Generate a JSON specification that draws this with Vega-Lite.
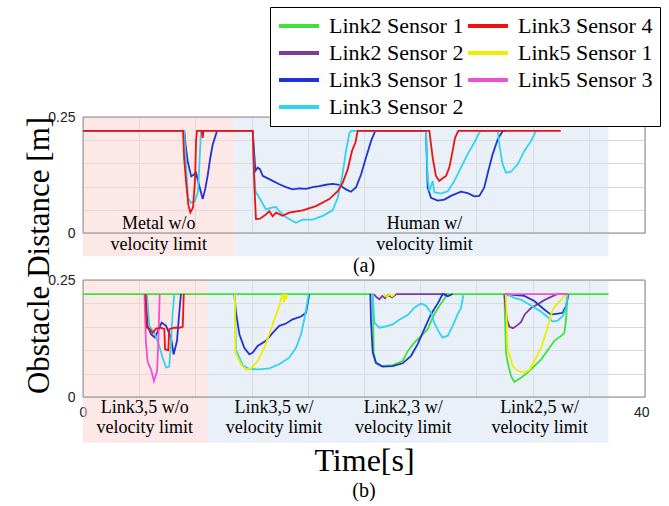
{
"$schema":"https://vega.github.io/schema/vega-lite/v6.json",
"padding":{"left":22,"top":6,"right":8,"bottom":6},
"background":"white",
"config":{"view":{"stroke":null},"font":"Liberation Serif",
 "axis":{"grid":true,"gridColor":"#d9d9d9","ticks":false,"domain":false,"labelFont":"Liberation Sans","labelFontSize":14,"labelColor":"#222","labelPadding":8,"labelOverlap":false}},
"datasets":{
"regions":[
{"p":"a","start":0,"end":10.8,"k":"pink"},{"p":"a","start":10.8,"end":37.4,"k":"blue"},
{"p":"b","start":0,"end":8.9,"k":"pink"},{"p":"b","start":8.9,"end":37.4,"k":"blue"}],
"labels":[
{"p":"a","t":5.4,"text":"Metal w/o\nvelocity limit"},{"p":"a","t":24.3,"text":"Human w/\nvelocity limit"},
{"p":"b","t":4.4,"text":"Link3,5 w/o\nvelocity limit"},{"p":"b","t":13.6,"text":"Link3,5 w/\nvelocity limit"},
{"p":"b","t":22.8,"text":"Link2,3 w/\nvelocity limit"},{"p":"b","t":32.5,"text":"Link2,5 w/\nvelocity limit"}],
"caps":[{"p":"a","t":20,"text":"(a)"},{"p":"b","t":20,"text":"(b)"}],
"frame":[{"x0":0,"x1":40,"y0":0,"y1":0.25}],
"d":[
{"p":"a","s":"Link3 Sensor 1","g":1,"t":0,"v":0.22},{"p":"a","s":"Link3 Sensor 1","g":1,"t":7.21,"v":0.22},{"p":"a","s":"Link3 Sensor 1","g":1,"t":7.3,"v":0.19},{"p":"a","s":"Link3 Sensor 1","g":1,"t":7.45,"v":0.155},{"p":"a","s":"Link3 Sensor 1","g":1,"t":7.7,"v":0.122},{"p":"a","s":"Link3 Sensor 1","g":1,"t":7.85,"v":0.125},{"p":"a","s":"Link3 Sensor 1","g":1,"t":8.04,"v":0.13},{"p":"a","s":"Link3 Sensor 1","g":1,"t":8.25,"v":0.105},{"p":"a","s":"Link3 Sensor 1","g":1,"t":8.52,"v":0.073},{"p":"a","s":"Link3 Sensor 1","g":1,"t":8.7,"v":0.095},{"p":"a","s":"Link3 Sensor 1","g":1,"t":8.88,"v":0.125},{"p":"a","s":"Link3 Sensor 1","g":1,"t":9.05,"v":0.16},{"p":"a","s":"Link3 Sensor 1","g":1,"t":9.23,"v":0.19},{"p":"a","s":"Link3 Sensor 1","g":1,"t":9.54,"v":0.22},{"p":"a","s":"Link3 Sensor 1","g":1,"t":12.08,"v":0.22},{"p":"a","s":"Link3 Sensor 1","g":1,"t":12.27,"v":0.134},{"p":"a","s":"Link3 Sensor 1","g":1,"t":12.43,"v":0.141},{"p":"a","s":"Link3 Sensor 1","g":1,"t":12.6,"v":0.137},{"p":"a","s":"Link3 Sensor 1","g":1,"t":12.79,"v":0.123},{"p":"a","s":"Link3 Sensor 1","g":1,"t":13.26,"v":0.116},{"p":"a","s":"Link3 Sensor 1","g":1,"t":13.97,"v":0.105},{"p":"a","s":"Link3 Sensor 1","g":1,"t":14.45,"v":0.099},{"p":"a","s":"Link3 Sensor 1","g":1,"t":14.92,"v":0.094},{"p":"a","s":"Link3 Sensor 1","g":1,"t":15.4,"v":0.096},{"p":"a","s":"Link3 Sensor 1","g":1,"t":15.87,"v":0.095},{"p":"a","s":"Link3 Sensor 1","g":1,"t":16.35,"v":0.099},{"p":"a","s":"Link3 Sensor 1","g":1,"t":16.82,"v":0.101},{"p":"a","s":"Link3 Sensor 1","g":1,"t":17.3,"v":0.104},{"p":"a","s":"Link3 Sensor 1","g":1,"t":17.77,"v":0.106},{"p":"a","s":"Link3 Sensor 1","g":1,"t":18.24,"v":0.104},{"p":"a","s":"Link3 Sensor 1","g":1,"t":18.72,"v":0.094},{"p":"a","s":"Link3 Sensor 1","g":1,"t":19.07,"v":0.089},{"p":"a","s":"Link3 Sensor 1","g":1,"t":19.43,"v":0.098},{"p":"a","s":"Link3 Sensor 1","g":1,"t":19.79,"v":0.126},{"p":"a","s":"Link3 Sensor 1","g":1,"t":20.14,"v":0.162},{"p":"a","s":"Link3 Sensor 1","g":1,"t":20.5,"v":0.198},{"p":"a","s":"Link3 Sensor 1","g":1,"t":20.8,"v":0.22},{"p":"a","s":"Link3 Sensor 1","g":1,"t":24.41,"v":0.22},{"p":"a","s":"Link3 Sensor 1","g":1,"t":24.53,"v":0.098},{"p":"a","s":"Link3 Sensor 1","g":1,"t":24.77,"v":0.076},{"p":"a","s":"Link3 Sensor 1","g":1,"t":25.25,"v":0.07},{"p":"a","s":"Link3 Sensor 1","g":1,"t":25.72,"v":0.072},{"p":"a","s":"Link3 Sensor 1","g":1,"t":26.19,"v":0.08},{"p":"a","s":"Link3 Sensor 1","g":1,"t":26.9,"v":0.089},{"p":"a","s":"Link3 Sensor 1","g":1,"t":27.38,"v":0.086},{"p":"a","s":"Link3 Sensor 1","g":1,"t":27.85,"v":0.079},{"p":"a","s":"Link3 Sensor 1","g":1,"t":28.21,"v":0.08},{"p":"a","s":"Link3 Sensor 1","g":1,"t":28.56,"v":0.098},{"p":"a","s":"Link3 Sensor 1","g":1,"t":28.85,"v":0.134},{"p":"a","s":"Link3 Sensor 1","g":1,"t":29.16,"v":0.17},{"p":"a","s":"Link3 Sensor 1","g":1,"t":29.52,"v":0.202},{"p":"a","s":"Link3 Sensor 1","g":1,"t":29.87,"v":0.22},{"p":"a","s":"Link3 Sensor 1","g":1,"t":30.1,"v":0.22},
{"p":"a","s":"Link3 Sensor 2","g":1,"t":0,"v":0.22},{"p":"a","s":"Link3 Sensor 2","g":1,"t":7.2,"v":0.22},{"p":"a","s":"Link3 Sensor 2","g":1,"t":7.35,"v":0.14},{"p":"a","s":"Link3 Sensor 2","g":1,"t":7.47,"v":0.076},{"p":"a","s":"Link3 Sensor 2","g":1,"t":7.69,"v":0.065},{"p":"a","s":"Link3 Sensor 2","g":1,"t":7.97,"v":0.069},{"p":"a","s":"Link3 Sensor 2","g":1,"t":8.19,"v":0.09},{"p":"a","s":"Link3 Sensor 2","g":1,"t":8.33,"v":0.177},{"p":"a","s":"Link3 Sensor 2","g":1,"t":8.4,"v":0.22},{"p":"a","s":"Link3 Sensor 2","g":1,"t":12.08,"v":0.22},{"p":"a","s":"Link3 Sensor 2","g":1,"t":12.15,"v":0.15},{"p":"a","s":"Link3 Sensor 2","g":1,"t":12.27,"v":0.09},{"p":"a","s":"Link3 Sensor 2","g":1,"t":12.55,"v":0.076},{"p":"a","s":"Link3 Sensor 2","g":1,"t":13.02,"v":0.051},{"p":"a","s":"Link3 Sensor 2","g":1,"t":13.5,"v":0.055},{"p":"a","s":"Link3 Sensor 2","g":1,"t":13.74,"v":0.056},{"p":"a","s":"Link3 Sensor 2","g":1,"t":13.97,"v":0.047},{"p":"a","s":"Link3 Sensor 2","g":1,"t":14.45,"v":0.034},{"p":"a","s":"Link3 Sensor 2","g":1,"t":15.16,"v":0.022},{"p":"a","s":"Link3 Sensor 2","g":1,"t":15.63,"v":0.029},{"p":"a","s":"Link3 Sensor 2","g":1,"t":16.35,"v":0.029},{"p":"a","s":"Link3 Sensor 2","g":1,"t":17.06,"v":0.037},{"p":"a","s":"Link3 Sensor 2","g":1,"t":17.77,"v":0.049},{"p":"a","s":"Link3 Sensor 2","g":1,"t":18.13,"v":0.076},{"p":"a","s":"Link3 Sensor 2","g":1,"t":18.43,"v":0.119},{"p":"a","s":"Link3 Sensor 2","g":1,"t":18.72,"v":0.177},{"p":"a","s":"Link3 Sensor 2","g":1,"t":18.96,"v":0.215},{"p":"a","s":"Link3 Sensor 2","g":1,"t":19.07,"v":0.22},{"p":"a","s":"Link3 Sensor 2","g":1,"t":24.41,"v":0.22},{"p":"a","s":"Link3 Sensor 2","g":1,"t":24.53,"v":0.119},{"p":"a","s":"Link3 Sensor 2","g":1,"t":24.65,"v":0.09},{"p":"a","s":"Link3 Sensor 2","g":1,"t":24.89,"v":0.112},{"p":"a","s":"Link3 Sensor 2","g":1,"t":25.0,"v":0.088},{"p":"a","s":"Link3 Sensor 2","g":1,"t":25.48,"v":0.085},{"p":"a","s":"Link3 Sensor 2","g":1,"t":25.96,"v":0.09},{"p":"a","s":"Link3 Sensor 2","g":1,"t":26.43,"v":0.112},{"p":"a","s":"Link3 Sensor 2","g":1,"t":26.9,"v":0.141},{"p":"a","s":"Link3 Sensor 2","g":1,"t":27.38,"v":0.17},{"p":"a","s":"Link3 Sensor 2","g":1,"t":27.85,"v":0.195},{"p":"a","s":"Link3 Sensor 2","g":1,"t":28.28,"v":0.22},{"p":"a","s":"Link3 Sensor 2","g":1,"t":29.52,"v":0.22},{"p":"a","s":"Link3 Sensor 2","g":1,"t":29.63,"v":0.191},{"p":"a","s":"Link3 Sensor 2","g":1,"t":29.87,"v":0.148},{"p":"a","s":"Link3 Sensor 2","g":1,"t":30.11,"v":0.13},{"p":"a","s":"Link3 Sensor 2","g":1,"t":30.46,"v":0.132},{"p":"a","s":"Link3 Sensor 2","g":1,"t":30.94,"v":0.148},{"p":"a","s":"Link3 Sensor 2","g":1,"t":31.41,"v":0.177},{"p":"a","s":"Link3 Sensor 2","g":1,"t":31.89,"v":0.198},{"p":"a","s":"Link3 Sensor 2","g":1,"t":32.24,"v":0.22},
{"p":"a","s":"Link3 Sensor 4","g":1,"t":0,"v":0.22},{"p":"a","s":"Link3 Sensor 4","g":1,"t":7.12,"v":0.22},{"p":"a","s":"Link3 Sensor 4","g":1,"t":7.2,"v":0.16},{"p":"a","s":"Link3 Sensor 4","g":1,"t":7.33,"v":0.112},{"p":"a","s":"Link3 Sensor 4","g":1,"t":7.5,"v":0.06},{"p":"a","s":"Link3 Sensor 4","g":1,"t":7.64,"v":0.044},{"p":"a","s":"Link3 Sensor 4","g":1,"t":7.83,"v":0.055},{"p":"a","s":"Link3 Sensor 4","g":1,"t":7.97,"v":0.112},{"p":"a","s":"Link3 Sensor 4","g":1,"t":8.05,"v":0.2},{"p":"a","s":"Link3 Sensor 4","g":1,"t":8.11,"v":0.22},{"p":"a","s":"Link3 Sensor 4","g":1,"t":8.45,"v":0.22},{"p":"a","s":"Link3 Sensor 4","g":1,"t":8.52,"v":0.205},{"p":"a","s":"Link3 Sensor 4","g":1,"t":8.58,"v":0.22},{"p":"a","s":"Link3 Sensor 4","g":1,"t":12.08,"v":0.22},{"p":"a","s":"Link3 Sensor 4","g":1,"t":12.2,"v":0.1},{"p":"a","s":"Link3 Sensor 4","g":1,"t":12.31,"v":0.03},{"p":"a","s":"Link3 Sensor 4","g":1,"t":12.6,"v":0.031},{"p":"a","s":"Link3 Sensor 4","g":1,"t":13.02,"v":0.04},{"p":"a","s":"Link3 Sensor 4","g":1,"t":13.26,"v":0.047},{"p":"a","s":"Link3 Sensor 4","g":1,"t":13.5,"v":0.036},{"p":"a","s":"Link3 Sensor 4","g":1,"t":13.74,"v":0.044},{"p":"a","s":"Link3 Sensor 4","g":1,"t":14.21,"v":0.037},{"p":"a","s":"Link3 Sensor 4","g":1,"t":14.68,"v":0.044},{"p":"a","s":"Link3 Sensor 4","g":1,"t":15.63,"v":0.049},{"p":"a","s":"Link3 Sensor 4","g":1,"t":16.58,"v":0.058},{"p":"a","s":"Link3 Sensor 4","g":1,"t":17.53,"v":0.073},{"p":"a","s":"Link3 Sensor 4","g":1,"t":18.13,"v":0.09},{"p":"a","s":"Link3 Sensor 4","g":1,"t":18.48,"v":0.108},{"p":"a","s":"Link3 Sensor 4","g":1,"t":18.84,"v":0.137},{"p":"a","s":"Link3 Sensor 4","g":1,"t":19.15,"v":0.177},{"p":"a","s":"Link3 Sensor 4","g":1,"t":19.39,"v":0.195},{"p":"a","s":"Link3 Sensor 4","g":1,"t":19.55,"v":0.22},{"p":"a","s":"Link3 Sensor 4","g":1,"t":24.65,"v":0.22},{"p":"a","s":"Link3 Sensor 4","g":1,"t":24.89,"v":0.162},{"p":"a","s":"Link3 Sensor 4","g":1,"t":25.12,"v":0.123},{"p":"a","s":"Link3 Sensor 4","g":1,"t":25.36,"v":0.112},{"p":"a","s":"Link3 Sensor 4","g":1,"t":25.6,"v":0.118},{"p":"a","s":"Link3 Sensor 4","g":1,"t":25.84,"v":0.123},{"p":"a","s":"Link3 Sensor 4","g":1,"t":26.07,"v":0.141},{"p":"a","s":"Link3 Sensor 4","g":1,"t":26.31,"v":0.177},{"p":"a","s":"Link3 Sensor 4","g":1,"t":26.48,"v":0.205},{"p":"a","s":"Link3 Sensor 4","g":1,"t":26.71,"v":0.22},{"p":"a","s":"Link3 Sensor 4","g":1,"t":34.0,"v":0.22},
{"p":"b","s":"Link2 Sensor 1","g":1,"t":0,"v":0.22},{"p":"b","s":"Link2 Sensor 1","g":1,"t":20.62,"v":0.22},{"p":"b","s":"Link2 Sensor 1","g":1,"t":20.69,"v":0.095},{"p":"b","s":"Link2 Sensor 1","g":1,"t":20.85,"v":0.073},{"p":"b","s":"Link2 Sensor 1","g":1,"t":21.21,"v":0.066},{"p":"b","s":"Link2 Sensor 1","g":1,"t":22.04,"v":0.068},{"p":"b","s":"Link2 Sensor 1","g":1,"t":22.75,"v":0.077},{"p":"b","s":"Link2 Sensor 1","g":1,"t":23.11,"v":0.098},{"p":"b","s":"Link2 Sensor 1","g":1,"t":23.58,"v":0.116},{"p":"b","s":"Link2 Sensor 1","g":1,"t":24.06,"v":0.13},{"p":"b","s":"Link2 Sensor 1","g":1,"t":24.53,"v":0.145},{"p":"b","s":"Link2 Sensor 1","g":1,"t":25.0,"v":0.177},{"p":"b","s":"Link2 Sensor 1","g":1,"t":25.48,"v":0.2},{"p":"b","s":"Link2 Sensor 1","g":1,"t":25.96,"v":0.22},{"p":"b","s":"Link2 Sensor 1","g":1,"t":29.99,"v":0.22},{"p":"b","s":"Link2 Sensor 1","g":1,"t":30.11,"v":0.095},{"p":"b","s":"Link2 Sensor 1","g":1,"t":30.23,"v":0.073},{"p":"b","s":"Link2 Sensor 1","g":1,"t":30.46,"v":0.045},{"p":"b","s":"Link2 Sensor 1","g":1,"t":30.7,"v":0.032},{"p":"b","s":"Link2 Sensor 1","g":1,"t":31.17,"v":0.041},{"p":"b","s":"Link2 Sensor 1","g":1,"t":31.65,"v":0.052},{"p":"b","s":"Link2 Sensor 1","g":1,"t":32.12,"v":0.066},{"p":"b","s":"Link2 Sensor 1","g":1,"t":32.6,"v":0.08},{"p":"b","s":"Link2 Sensor 1","g":1,"t":33.07,"v":0.1},{"p":"b","s":"Link2 Sensor 1","g":1,"t":33.55,"v":0.12},{"p":"b","s":"Link2 Sensor 1","g":1,"t":34.02,"v":0.13},{"p":"b","s":"Link2 Sensor 1","g":1,"t":34.26,"v":0.137},{"p":"b","s":"Link2 Sensor 1","g":1,"t":34.38,"v":0.166},{"p":"b","s":"Link2 Sensor 1","g":1,"t":34.45,"v":0.2},{"p":"b","s":"Link2 Sensor 1","g":1,"t":34.5,"v":0.22},{"p":"b","s":"Link2 Sensor 1","g":1,"t":37.4,"v":0.22},
{"p":"b","s":"Link2 Sensor 2","g":3,"t":20.7,"v":0.22},{"p":"b","s":"Link2 Sensor 2","g":3,"t":20.9,"v":0.213},{"p":"b","s":"Link2 Sensor 2","g":3,"t":21.1,"v":0.209},{"p":"b","s":"Link2 Sensor 2","g":3,"t":21.3,"v":0.216},{"p":"b","s":"Link2 Sensor 2","g":3,"t":21.5,"v":0.211},{"p":"b","s":"Link2 Sensor 2","g":3,"t":21.7,"v":0.218},{"p":"b","s":"Link2 Sensor 2","g":3,"t":22.0,"v":0.213},{"p":"b","s":"Link2 Sensor 2","g":3,"t":22.3,"v":0.22},{"p":"b","s":"Link2 Sensor 2","g":3,"t":25.9,"v":0.22},
{"p":"b","s":"Link2 Sensor 2","g":4,"t":29.99,"v":0.22},{"p":"b","s":"Link2 Sensor 2","g":4,"t":30.08,"v":0.19},{"p":"b","s":"Link2 Sensor 2","g":4,"t":30.18,"v":0.165},{"p":"b","s":"Link2 Sensor 2","g":4,"t":30.35,"v":0.15},{"p":"b","s":"Link2 Sensor 2","g":4,"t":30.6,"v":0.147},{"p":"b","s":"Link2 Sensor 2","g":4,"t":30.9,"v":0.153},{"p":"b","s":"Link2 Sensor 2","g":4,"t":31.17,"v":0.16},{"p":"b","s":"Link2 Sensor 2","g":4,"t":31.45,"v":0.177},{"p":"b","s":"Link2 Sensor 2","g":4,"t":31.89,"v":0.19},{"p":"b","s":"Link2 Sensor 2","g":4,"t":32.36,"v":0.198},{"p":"b","s":"Link2 Sensor 2","g":4,"t":32.83,"v":0.207},{"p":"b","s":"Link2 Sensor 2","g":4,"t":33.31,"v":0.214},{"p":"b","s":"Link2 Sensor 2","g":4,"t":33.79,"v":0.22},{"p":"b","s":"Link2 Sensor 2","g":4,"t":34.5,"v":0.22},
{"p":"b","s":"Link3 Sensor 1","g":1,"t":4.45,"v":0.22},{"p":"b","s":"Link3 Sensor 1","g":1,"t":4.6,"v":0.152},{"p":"b","s":"Link3 Sensor 1","g":1,"t":4.84,"v":0.134},{"p":"b","s":"Link3 Sensor 1","g":1,"t":5.12,"v":0.127},{"p":"b","s":"Link3 Sensor 1","g":1,"t":5.43,"v":0.148},{"p":"b","s":"Link3 Sensor 1","g":1,"t":5.6,"v":0.159},{"p":"b","s":"Link3 Sensor 1","g":1,"t":5.91,"v":0.152},{"p":"b","s":"Link3 Sensor 1","g":1,"t":6.26,"v":0.127},{"p":"b","s":"Link3 Sensor 1","g":1,"t":6.45,"v":0.091},{"p":"b","s":"Link3 Sensor 1","g":1,"t":6.69,"v":0.12},{"p":"b","s":"Link3 Sensor 1","g":1,"t":6.85,"v":0.18},{"p":"b","s":"Link3 Sensor 1","g":1,"t":6.97,"v":0.22},
{"p":"b","s":"Link3 Sensor 1","g":2,"t":10.77,"v":0.22},{"p":"b","s":"Link3 Sensor 1","g":2,"t":10.89,"v":0.18},{"p":"b","s":"Link3 Sensor 1","g":2,"t":11.13,"v":0.134},{"p":"b","s":"Link3 Sensor 1","g":2,"t":11.48,"v":0.105},{"p":"b","s":"Link3 Sensor 1","g":2,"t":11.84,"v":0.091},{"p":"b","s":"Link3 Sensor 1","g":2,"t":12.08,"v":0.095},{"p":"b","s":"Link3 Sensor 1","g":2,"t":12.43,"v":0.109},{"p":"b","s":"Link3 Sensor 1","g":2,"t":13.02,"v":0.12},{"p":"b","s":"Link3 Sensor 1","g":2,"t":13.5,"v":0.137},{"p":"b","s":"Link3 Sensor 1","g":2,"t":13.97,"v":0.152},{"p":"b","s":"Link3 Sensor 1","g":2,"t":14.45,"v":0.157},{"p":"b","s":"Link3 Sensor 1","g":2,"t":14.92,"v":0.166},{"p":"b","s":"Link3 Sensor 1","g":2,"t":15.52,"v":0.172},{"p":"b","s":"Link3 Sensor 1","g":2,"t":15.87,"v":0.18},{"p":"b","s":"Link3 Sensor 1","g":2,"t":15.99,"v":0.2},{"p":"b","s":"Link3 Sensor 1","g":2,"t":16.11,"v":0.22},
{"p":"b","s":"Link3 Sensor 1","g":3,"t":20.45,"v":0.22},{"p":"b","s":"Link3 Sensor 1","g":3,"t":20.5,"v":0.16},{"p":"b","s":"Link3 Sensor 1","g":3,"t":20.62,"v":0.095},{"p":"b","s":"Link3 Sensor 1","g":3,"t":20.85,"v":0.073},{"p":"b","s":"Link3 Sensor 1","g":3,"t":21.33,"v":0.065},{"p":"b","s":"Link3 Sensor 1","g":3,"t":22.04,"v":0.066},{"p":"b","s":"Link3 Sensor 1","g":3,"t":22.75,"v":0.072},{"p":"b","s":"Link3 Sensor 1","g":3,"t":23.35,"v":0.088},{"p":"b","s":"Link3 Sensor 1","g":3,"t":23.82,"v":0.113},{"p":"b","s":"Link3 Sensor 1","g":3,"t":24.29,"v":0.145},{"p":"b","s":"Link3 Sensor 1","g":3,"t":24.77,"v":0.177},{"p":"b","s":"Link3 Sensor 1","g":3,"t":25.25,"v":0.2},{"p":"b","s":"Link3 Sensor 1","g":3,"t":25.6,"v":0.22},{"p":"b","s":"Link3 Sensor 1","g":3,"t":25.96,"v":0.215},{"p":"b","s":"Link3 Sensor 1","g":3,"t":26.31,"v":0.22},
{"p":"b","s":"Link3 Sensor 1","g":4,"t":30.0,"v":0.22},{"p":"b","s":"Link3 Sensor 1","g":4,"t":31.41,"v":0.216},{"p":"b","s":"Link3 Sensor 1","g":4,"t":32.12,"v":0.205},{"p":"b","s":"Link3 Sensor 1","g":4,"t":32.83,"v":0.187},{"p":"b","s":"Link3 Sensor 1","g":4,"t":33.31,"v":0.176},{"p":"b","s":"Link3 Sensor 1","g":4,"t":33.79,"v":0.178},{"p":"b","s":"Link3 Sensor 1","g":4,"t":34.14,"v":0.18},{"p":"b","s":"Link3 Sensor 1","g":4,"t":34.38,"v":0.194},{"p":"b","s":"Link3 Sensor 1","g":4,"t":34.55,"v":0.22},
{"p":"b","s":"Link3 Sensor 2","g":1,"t":4.55,"v":0.22},{"p":"b","s":"Link3 Sensor 2","g":1,"t":4.72,"v":0.152},{"p":"b","s":"Link3 Sensor 2","g":1,"t":5.08,"v":0.137},{"p":"b","s":"Link3 Sensor 2","g":1,"t":5.43,"v":0.109},{"p":"b","s":"Link3 Sensor 2","g":1,"t":5.67,"v":0.084},{"p":"b","s":"Link3 Sensor 2","g":1,"t":5.91,"v":0.063},{"p":"b","s":"Link3 Sensor 2","g":1,"t":6.14,"v":0.065},{"p":"b","s":"Link3 Sensor 2","g":1,"t":6.26,"v":0.116},{"p":"b","s":"Link3 Sensor 2","g":1,"t":6.38,"v":0.18},{"p":"b","s":"Link3 Sensor 2","g":1,"t":6.5,"v":0.22},
{"p":"b","s":"Link3 Sensor 2","g":2,"t":10.8,"v":0.22},{"p":"b","s":"Link3 Sensor 2","g":2,"t":10.89,"v":0.1},{"p":"b","s":"Link3 Sensor 2","g":2,"t":11.37,"v":0.068},{"p":"b","s":"Link3 Sensor 2","g":2,"t":11.84,"v":0.06},{"p":"b","s":"Link3 Sensor 2","g":2,"t":12.55,"v":0.059},{"p":"b","s":"Link3 Sensor 2","g":2,"t":13.26,"v":0.061},{"p":"b","s":"Link3 Sensor 2","g":2,"t":13.97,"v":0.07},{"p":"b","s":"Link3 Sensor 2","g":2,"t":14.68,"v":0.084},{"p":"b","s":"Link3 Sensor 2","g":2,"t":15.16,"v":0.105},{"p":"b","s":"Link3 Sensor 2","g":2,"t":15.52,"v":0.134},{"p":"b","s":"Link3 Sensor 2","g":2,"t":15.75,"v":0.166},{"p":"b","s":"Link3 Sensor 2","g":2,"t":15.92,"v":0.194},{"p":"b","s":"Link3 Sensor 2","g":2,"t":16.06,"v":0.22},
{"p":"b","s":"Link3 Sensor 2","g":3,"t":20.62,"v":0.22},{"p":"b","s":"Link3 Sensor 2","g":3,"t":20.74,"v":0.159},{"p":"b","s":"Link3 Sensor 2","g":3,"t":21.09,"v":0.148},{"p":"b","s":"Link3 Sensor 2","g":3,"t":21.57,"v":0.151},{"p":"b","s":"Link3 Sensor 2","g":3,"t":22.04,"v":0.155},{"p":"b","s":"Link3 Sensor 2","g":3,"t":22.51,"v":0.165},{"p":"b","s":"Link3 Sensor 2","g":3,"t":23.11,"v":0.175},{"p":"b","s":"Link3 Sensor 2","g":3,"t":23.58,"v":0.191},{"p":"b","s":"Link3 Sensor 2","g":3,"t":24.06,"v":0.2},{"p":"b","s":"Link3 Sensor 2","g":3,"t":24.41,"v":0.195},{"p":"b","s":"Link3 Sensor 2","g":3,"t":24.77,"v":0.18},{"p":"b","s":"Link3 Sensor 2","g":3,"t":25.0,"v":0.159},{"p":"b","s":"Link3 Sensor 2","g":3,"t":25.36,"v":0.137},{"p":"b","s":"Link3 Sensor 2","g":3,"t":25.6,"v":0.127},{"p":"b","s":"Link3 Sensor 2","g":3,"t":25.96,"v":0.131},{"p":"b","s":"Link3 Sensor 2","g":3,"t":26.31,"v":0.152},{"p":"b","s":"Link3 Sensor 2","g":3,"t":26.67,"v":0.177},{"p":"b","s":"Link3 Sensor 2","g":3,"t":26.9,"v":0.19},{"p":"b","s":"Link3 Sensor 2","g":3,"t":27.09,"v":0.22},
{"p":"b","s":"Link3 Sensor 2","g":4,"t":29.99,"v":0.22},{"p":"b","s":"Link3 Sensor 2","g":4,"t":30.23,"v":0.218},{"p":"b","s":"Link3 Sensor 2","g":4,"t":30.7,"v":0.212},{"p":"b","s":"Link3 Sensor 2","g":4,"t":31.17,"v":0.208},{"p":"b","s":"Link3 Sensor 2","g":4,"t":31.65,"v":0.2},{"p":"b","s":"Link3 Sensor 2","g":4,"t":32.12,"v":0.191},{"p":"b","s":"Link3 Sensor 2","g":4,"t":32.6,"v":0.182},{"p":"b","s":"Link3 Sensor 2","g":4,"t":33.07,"v":0.171},{"p":"b","s":"Link3 Sensor 2","g":4,"t":33.43,"v":0.161},{"p":"b","s":"Link3 Sensor 2","g":4,"t":33.79,"v":0.163},{"p":"b","s":"Link3 Sensor 2","g":4,"t":34.14,"v":0.173},{"p":"b","s":"Link3 Sensor 2","g":4,"t":34.38,"v":0.19},{"p":"b","s":"Link3 Sensor 2","g":4,"t":34.5,"v":0.22},
{"p":"b","s":"Link5 Sensor 1","g":2,"t":10.8,"v":0.22},{"p":"b","s":"Link5 Sensor 1","g":2,"t":10.85,"v":0.095},{"p":"b","s":"Link5 Sensor 1","g":2,"t":11.0,"v":0.085},{"p":"b","s":"Link5 Sensor 1","g":2,"t":11.25,"v":0.07},{"p":"b","s":"Link5 Sensor 1","g":2,"t":11.6,"v":0.058},{"p":"b","s":"Link5 Sensor 1","g":2,"t":11.96,"v":0.061},{"p":"b","s":"Link5 Sensor 1","g":2,"t":12.43,"v":0.077},{"p":"b","s":"Link5 Sensor 1","g":2,"t":12.9,"v":0.105},{"p":"b","s":"Link5 Sensor 1","g":2,"t":13.26,"v":0.134},{"p":"b","s":"Link5 Sensor 1","g":2,"t":13.62,"v":0.166},{"p":"b","s":"Link5 Sensor 1","g":2,"t":13.97,"v":0.194},{"p":"b","s":"Link5 Sensor 1","g":2,"t":14.1,"v":0.21},{"p":"b","s":"Link5 Sensor 1","g":2,"t":14.21,"v":0.22},{"p":"b","s":"Link5 Sensor 1","g":2,"t":14.3,"v":0.203},{"p":"b","s":"Link5 Sensor 1","g":2,"t":14.4,"v":0.22},{"p":"b","s":"Link5 Sensor 1","g":2,"t":14.45,"v":0.208},{"p":"b","s":"Link5 Sensor 1","g":2,"t":14.52,"v":0.22},
{"p":"b","s":"Link5 Sensor 1","g":3,"t":21.4,"v":0.22},{"p":"b","s":"Link5 Sensor 1","g":3,"t":21.6,"v":0.214},{"p":"b","s":"Link5 Sensor 1","g":3,"t":21.8,"v":0.22},{"p":"b","s":"Link5 Sensor 1","g":3,"t":22.0,"v":0.215},{"p":"b","s":"Link5 Sensor 1","g":3,"t":22.2,"v":0.22},
{"p":"b","s":"Link5 Sensor 1","g":4,"t":30.1,"v":0.22},{"p":"b","s":"Link5 Sensor 1","g":4,"t":30.23,"v":0.095},{"p":"b","s":"Link5 Sensor 1","g":4,"t":30.35,"v":0.093},{"p":"b","s":"Link5 Sensor 1","g":4,"t":30.58,"v":0.066},{"p":"b","s":"Link5 Sensor 1","g":4,"t":30.94,"v":0.056},{"p":"b","s":"Link5 Sensor 1","g":4,"t":31.41,"v":0.052},{"p":"b","s":"Link5 Sensor 1","g":4,"t":31.77,"v":0.058},{"p":"b","s":"Link5 Sensor 1","g":4,"t":32.12,"v":0.077},{"p":"b","s":"Link5 Sensor 1","g":4,"t":32.6,"v":0.105},{"p":"b","s":"Link5 Sensor 1","g":4,"t":32.95,"v":0.137},{"p":"b","s":"Link5 Sensor 1","g":4,"t":33.19,"v":0.162},{"p":"b","s":"Link5 Sensor 1","g":4,"t":33.43,"v":0.187},{"p":"b","s":"Link5 Sensor 1","g":4,"t":33.79,"v":0.2},{"p":"b","s":"Link5 Sensor 1","g":4,"t":34.26,"v":0.215},{"p":"b","s":"Link5 Sensor 1","g":4,"t":34.5,"v":0.22},
{"p":"b","s":"Link5 Sensor 3","g":1,"t":4.37,"v":0.22},{"p":"b","s":"Link5 Sensor 3","g":1,"t":4.48,"v":0.116},{"p":"b","s":"Link5 Sensor 3","g":1,"t":4.6,"v":0.075},{"p":"b","s":"Link5 Sensor 3","g":1,"t":4.84,"v":0.059},{"p":"b","s":"Link5 Sensor 3","g":1,"t":5.05,"v":0.034},{"p":"b","s":"Link5 Sensor 3","g":1,"t":5.27,"v":0.055},{"p":"b","s":"Link5 Sensor 3","g":1,"t":5.36,"v":0.116},{"p":"b","s":"Link5 Sensor 3","g":1,"t":5.46,"v":0.22},
{"p":"b","s":"Link5 Sensor 3","g":4,"t":30.0,"v":0.22},{"p":"b","s":"Link5 Sensor 3","g":4,"t":34.5,"v":0.22},
{"p":"b","s":"Link3 Sensor 4","g":1,"t":4.45,"v":0.22},{"p":"b","s":"Link3 Sensor 4","g":1,"t":4.55,"v":0.148},{"p":"b","s":"Link3 Sensor 4","g":1,"t":4.72,"v":0.146},{"p":"b","s":"Link3 Sensor 4","g":1,"t":4.96,"v":0.137},{"p":"b","s":"Link3 Sensor 4","g":1,"t":5.2,"v":0.146},{"p":"b","s":"Link3 Sensor 4","g":1,"t":5.55,"v":0.148},{"p":"b","s":"Link3 Sensor 4","g":1,"t":5.79,"v":0.145},{"p":"b","s":"Link3 Sensor 4","g":1,"t":5.84,"v":0.102},{"p":"b","s":"Link3 Sensor 4","g":1,"t":6.07,"v":0.1},{"p":"b","s":"Link3 Sensor 4","g":1,"t":6.14,"v":0.145},{"p":"b","s":"Link3 Sensor 4","g":1,"t":6.5,"v":0.148},{"p":"b","s":"Link3 Sensor 4","g":1,"t":6.85,"v":0.148},{"p":"b","s":"Link3 Sensor 4","g":1,"t":7.1,"v":0.15},{"p":"b","s":"Link3 Sensor 4","g":1,"t":7.17,"v":0.22}
]},
"vconcat":[
{"width":562,"height":116,
 "layer":[
  {"data":{"name":"regions"},"transform":[{"filter":"datum.p=='a'"}],
   "mark":{"type":"rect","clip":false,"opacity":0.5},
   "encoding":{"x":{"field":"start","type":"quantitative","scale":{"domain":[0,40],"nice":false},
      "axis":{"values":[0,4,8,12,16,20,24,28,32,36,40],"tickCount":20,"labels":false,"title":null}},"x2":{"field":"end"},
     "y":{"datum":-0.05,"type":"quantitative","scale":{"domain":[0,0.25],"nice":false},
      "axis":{"values":[0,0.05,0.1,0.15,0.2,0.25],"tickCount":10,"labelExpr":"datum.value>0.24?'0.25':(datum.value<0.01?'0':'')","labelOverlap":false,"labelFlush":false,"title":null}},"y2":{"datum":0.25},
     "fill":{"field":"k","type":"nominal","scale":{"domain":["pink","blue"],"range":["#fbd2d2","#d3e2f0"]},"legend":null}}},
  {"data":{"name":"frame"},"mark":{"type":"rect","fill":null,"stroke":"#8a8a8a","strokeWidth":1},
   "encoding":{"x":{"field":"x0","type":"quantitative"},"x2":{"field":"x1"},"y":{"field":"y0","type":"quantitative"},"y2":{"field":"y1"}}},
  {"data":{"name":"d"},"transform":[{"filter":"datum.p=='a'"}],
   "mark":{"type":"line","strokeWidth":1.8,"clip":false},
   "encoding":{"x":{"field":"t","type":"quantitative"},
     "y":{"field":"v","type":"quantitative"},
     "color":{"field":"s","type":"nominal",
      "scale":{"domain":["Link2 Sensor 1","Link2 Sensor 2","Link3 Sensor 1","Link3 Sensor 2","Link3 Sensor 4","Link5 Sensor 1","Link5 Sensor 3"],"range":["#3ee23e","#7a3a9e","#2034d0","#30d4ec","#ee1111","#f0ee00","#f050d0"]},
      "legend":{"orient":"none","legendX":187,"legendY":-110,"columns":2,"title":null,"labelFont":"Liberation Serif","labelFontSize":22,"labelColor":"black","symbolType":"stroke","symbolSize":1600,"symbolStrokeWidth":4,"clipHeight":24,"labelOffset":8,"columnPadding":2,"rowPadding":3,"padding":7,"strokeColor":"black","fillColor":"white","labelLimit":0}},
     "detail":{"field":"g"}}},
  {"data":{"name":"labels"},"transform":[{"filter":"datum.p=='a'"}],
   "mark":{"type":"text","font":"Liberation Serif","fontSize":18,"lineBreak":"\n","lineHeight":21,"baseline":"middle","align":"center","color":"black","clip":false},
   "encoding":{"x":{"field":"t","type":"quantitative"},"y":{"datum":0.0194,"type":"quantitative"},"text":{"field":"text"}}},
  {"data":{"name":"caps"},"transform":[{"filter":"datum.p=='a'"}],
   "mark":{"type":"text","font":"Liberation Serif","fontSize":20,"baseline":"middle","align":"center","color":"black","clip":false},
   "encoding":{"x":{"field":"t","type":"quantitative"},"y":{"datum":-0.071,"type":"quantitative"},"text":{"field":"text"}}}
 ],
 "resolve":{"scale":{"fill":"independent"}}
},
{"width":562,"height":117,
 "layer":[
  {"data":{"name":"regions"},"transform":[{"filter":"datum.p=='b'"}],
   "mark":{"type":"rect","clip":false,"opacity":0.5},
   "encoding":{"x":{"field":"start","type":"quantitative","scale":{"domain":[0,40],"nice":false},
      "axis":{"values":[0,4,8,12,16,20,24,28,32,36,40],"tickCount":20,"labelExpr":"datum.value==0||datum.value==40?datum.label:''","labelFlush":true,"labelFlushOffset":4,
        "title":"Time[s]","titleFont":"Liberation Serif","titleFontSize":32,"titleFontWeight":"normal","titleColor":"black","titleY":63,"titleBaseline":"middle"}},"x2":{"field":"end"},
     "y":{"datum":-0.098,"type":"quantitative","scale":{"domain":[0,0.25],"nice":false},
      "axis":{"values":[0,0.05,0.1,0.15,0.2,0.25],"tickCount":10,"labelExpr":"datum.value>0.24?'0.25':(datum.value<0.01?'0':'')","labelOverlap":false,"labelFlush":false,
        "title":"Obstacle Distance [m]","titleFont":"Liberation Serif","titleFontSize":31,"titleFontWeight":"normal","titleColor":"black","titleAngle":270,"titleX":-44,"titleY":-25,"titleAlign":"center","titleBaseline":"middle"}},"y2":{"datum":0.25},
     "fill":{"field":"k","type":"nominal","scale":{"domain":["pink","blue"],"range":["#fbd2d2","#d3e2f0"]},"legend":null}}},
  {"data":{"name":"frame"},"mark":{"type":"rect","fill":null,"stroke":"#8a8a8a","strokeWidth":1},
   "encoding":{"x":{"field":"x0","type":"quantitative"},"x2":{"field":"x1"},"y":{"field":"y0","type":"quantitative"},"y2":{"field":"y1"}}},
  {"data":{"name":"d"},"transform":[{"filter":"datum.p=='b'"}],
   "mark":{"type":"line","strokeWidth":1.8,"clip":false},
   "encoding":{"x":{"field":"t","type":"quantitative"},
     "y":{"field":"v","type":"quantitative"},
     "color":{"field":"s","type":"nominal",
      "scale":{"domain":["Link2 Sensor 1","Link2 Sensor 2","Link3 Sensor 1","Link3 Sensor 2","Link3 Sensor 4","Link5 Sensor 1","Link5 Sensor 3"],"range":["#3ee23e","#7a3a9e","#2034d0","#30d4ec","#ee1111","#f0ee00","#f050d0"]},
      "legend":null},
     "detail":{"field":"g"}}},
  {"data":{"name":"labels"},"transform":[{"filter":"datum.p=='b'"}],
   "mark":{"type":"text","font":"Liberation Serif","fontSize":18,"lineBreak":"\n","lineHeight":20,"baseline":"middle","align":"center","color":"black","clip":false},
   "encoding":{"x":{"field":"t","type":"quantitative"},"y":{"datum":-0.0235,"type":"quantitative"},"text":{"field":"text"}}},
  {"data":{"name":"caps"},"transform":[{"filter":"datum.p=='b'"}],
   "mark":{"type":"text","font":"Liberation Serif","fontSize":20,"baseline":"middle","align":"center","color":"black","clip":false},
   "encoding":{"x":{"field":"t","type":"quantitative"},"y":{"datum":-0.2,"type":"quantitative"},"text":{"field":"text"}}}
 ],
 "resolve":{"scale":{"fill":"independent"}}
}
],
"spacing":47,
"bounds":"flush",
"resolve":{"scale":{"color":"independent","fill":"independent"}}
}
